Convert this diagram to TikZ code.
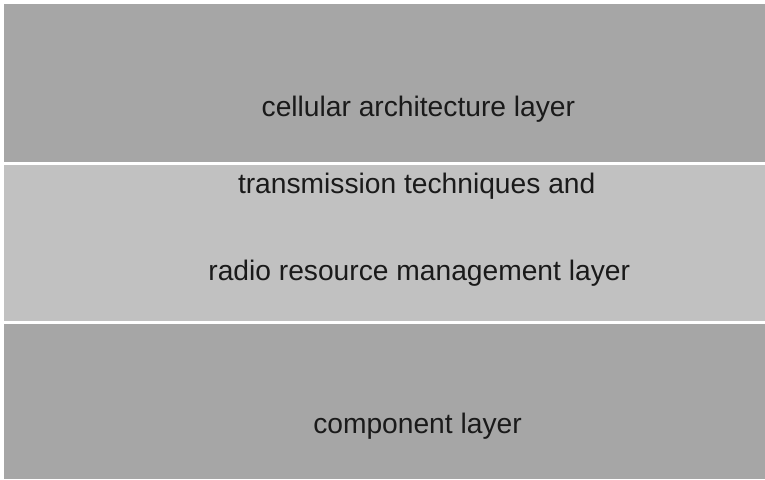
\documentclass[tikz,border=0pt]{standalone}
\usepackage{fontspec}
\setmainfont{Liberation Sans}
\definecolor{darkband}{HTML}{A6A6A6}
\definecolor{lightband}{HTML}{C1C1C1}
\definecolor{labeltext}{HTML}{1A1A1A}
\tikzset{
  layerlabel/.style={anchor=base, text=labeltext, inner sep=0pt,
    font=\fontsize{28.2}{34}\selectfont}
}
\begin{document}
\begin{tikzpicture}[x=1pt, y=-1pt]
  \useasboundingbox[fill=white] (0,0) rectangle (765,479);
  % Bands
  \fill[darkband] (4,4) rectangle (765,162);
  \fill[lightband] (4,165) rectangle (765,321);
  \fill[darkband] (4,323.5) rectangle (765,479);
  % Labels
  \node[layerlabel] (cell) at (418.4,116.7) {cellular architecture layer};
  \node[layerlabel] (trans) at (416.7,193.3) {transmission techniques and};
  \node[layerlabel] (rrm) at (419.2,280) {radio resource management layer};
  \node[layerlabel] (comp) at (417.5,433.3) {component layer};
\end{tikzpicture}
\end{document}
